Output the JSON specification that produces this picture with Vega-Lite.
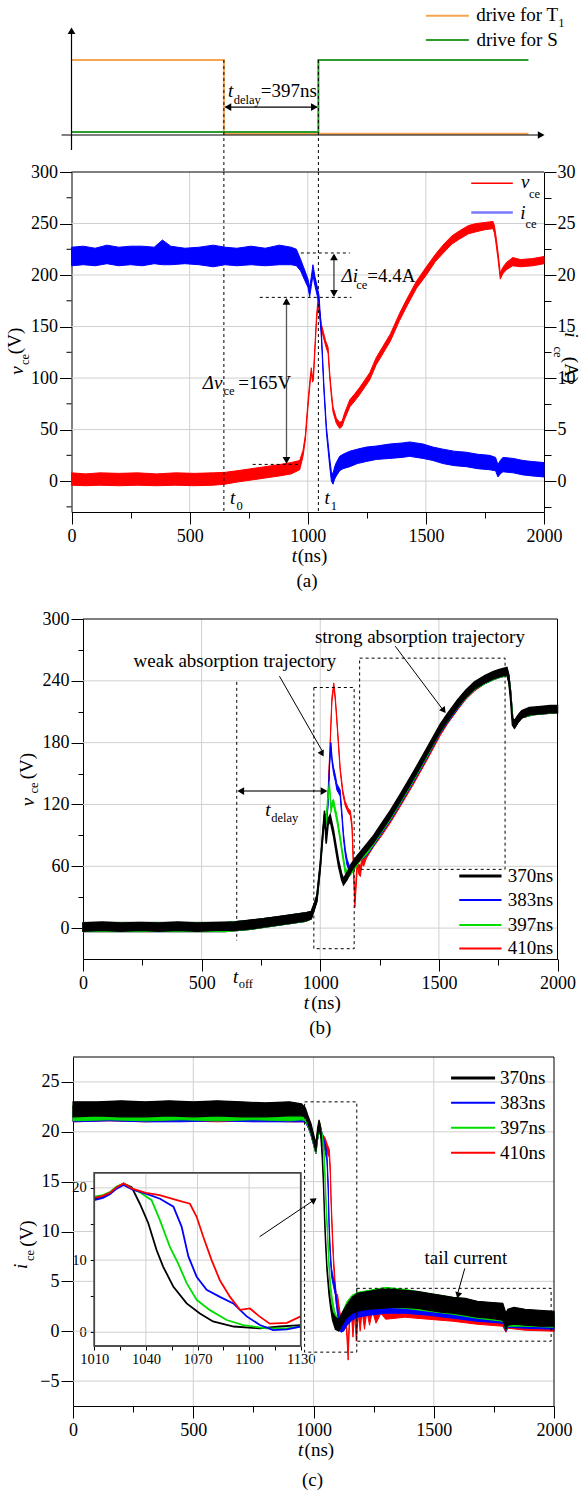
{
"$schema": "https://vega.github.io/schema/vega-lite/v6.json",
"background": "white",
"padding": 0,
"spacing": 0,
"bounds": "flush",
"config": {"font": "Liberation Serif, Times New Roman, DejaVu Serif, serif", "view": {"stroke": null}, "axis": {"labelFont": "Liberation Serif, Times New Roman, DejaVu Serif, serif", "labelFontSize": 18, "labelColor": "black", "domainColor": "black", "domainWidth": 1, "tickColor": "black", "tickWidth": 1, "grid": false}},
"datasets": {
"d_or": [{"t":0,"v":1},{"t":645,"v":0.017},{"t":1934,"v":0.017}],
"d_gr": [{"t":0,"v":0.04},{"t":1045,"v":1},{"t":1934,"v":1}],
"d_seg": [{"t":-42,"t2":1990,"v":0,"v2":0},{"t":0,"t2":0,"v":-0.2,"v2":1.4},{"t":652,"t2":1038,"v":0.373,"v2":0.373}],
"d_dash": [{"t":645,"t2":645,"v":1,"v2":-0.5},{"t":1045,"t2":1045,"v":1,"v2":-0.5}],
"d_lego": [{"t":1500,"t2":1682,"v":1.59,"v2":1.59}],
"d_legg": [{"t":1500,"t2":1682,"v":1.267,"v2":1.267}],
"d_up": [{"t":0,"v":1.39}],
"d_right": [{"t":1988,"v":0},{"t":1028,"v":0.373}],
"d_left": [{"t":662,"v":0.373}],
"d_it": [{"t":662,"v":0.587,"s":"t"}],
"d_sub": [{"t":687,"v":0.467,"s":"delay"},{"t":2060,"v":1.5,"s":"1"}],
"d_rm": [{"t":801,"v":0.587,"s":"=397ns"},{"t":1713,"v":1.6,"s":"drive for T"},{"t":1714,"v":1.267,"s":"drive for S"}],
"a_grid": [{"t":500,"t2":500,"v":-30,"v2":300},{"t":1000,"t2":1000,"v":-30,"v2":300},{"t":1500,"t2":1500,"v":-30,"v2":300},{"t":0,"t2":2000,"v":0,"v2":0},{"t":0,"t2":2000,"v":50,"v2":50},{"t":0,"t2":2000,"v":100,"v2":100},{"t":0,"t2":2000,"v":150,"v2":150},{"t":0,"t2":2000,"v":200,"v2":200},{"t":0,"t2":2000,"v":250,"v2":250}],
"a_minor": [{"t":-21.1,"t2":0,"v":-25,"v2":-25},{"t":-21.1,"t2":0,"v":25,"v2":25},{"t":-21.1,"t2":0,"v":75,"v2":75},{"t":-21.1,"t2":0,"v":125,"v2":125},{"t":-21.1,"t2":0,"v":175,"v2":175},{"t":-21.1,"t2":0,"v":225,"v2":225},{"t":-21.1,"t2":0,"v":275,"v2":275}],
"a_vce": [{"t":0,"lo":-4,"hi":8},{"t":60,"lo":-4.5,"hi":7},{"t":120,"lo":-4,"hi":8},{"t":200,"lo":-4.5,"hi":7.5},{"t":280,"lo":-4,"hi":8},{"t":360,"lo":-4.5,"hi":7},{"t":440,"lo":-4,"hi":8},{"t":520,"lo":-4.5,"hi":7.5},{"t":600,"lo":-4,"hi":8},{"t":650,"lo":-3,"hi":8.5},{"t":700,"lo":-1,"hi":10},{"t":760,"lo":1,"hi":12},{"t":820,"lo":3,"hi":14},{"t":880,"lo":5,"hi":16},{"t":930,"lo":7,"hi":18},{"t":966,"lo":11,"hi":20},{"t":980,"lo":24,"hi":30},{"t":990,"lo":40,"hi":45},{"t":1001,"lo":72,"hi":78},{"t":1010,"lo":95,"hi":100},{"t":1015,"lo":105,"hi":110},{"t":1020,"lo":96,"hi":101},{"t":1024,"lo":98,"hi":104},{"t":1030,"lo":124,"hi":130},{"t":1037,"lo":155,"hi":160},{"t":1044,"lo":172,"hi":178},{"t":1050,"lo":160,"hi":166},{"t":1058,"lo":147,"hi":152},{"t":1068,"lo":138,"hi":143},{"t":1076,"lo":131,"hi":136},{"t":1086,"lo":124,"hi":130},{"t":1093,"lo":100,"hi":105},{"t":1100,"lo":82,"hi":87},{"t":1107,"lo":67,"hi":72},{"t":1121,"lo":56,"hi":61},{"t":1135,"lo":51,"hi":57},{"t":1145,"lo":53,"hi":58},{"t":1156,"lo":60,"hi":66},{"t":1178,"lo":72,"hi":79},{"t":1200,"lo":78,"hi":85},{"t":1220,"lo":84,"hi":91},{"t":1262,"lo":98,"hi":105},{"t":1290,"lo":113,"hi":120},{"t":1319,"lo":124,"hi":131},{"t":1350,"lo":136,"hi":143},{"t":1389,"lo":156,"hi":163},{"t":1420,"lo":170,"hi":177},{"t":1460,"lo":187,"hi":194},{"t":1502,"lo":200,"hi":208},{"t":1540,"lo":213,"hi":220},{"t":1572,"lo":221,"hi":229},{"t":1610,"lo":230,"hi":238},{"t":1643,"lo":235,"hi":243},{"t":1680,"lo":240,"hi":248},{"t":1713,"lo":242,"hi":250},{"t":1750,"lo":244,"hi":251},{"t":1784,"lo":245,"hi":252},{"t":1790,"lo":241,"hi":248},{"t":1796,"lo":232,"hi":239},{"t":1805,"lo":216,"hi":223},{"t":1815,"lo":196,"hi":202},{"t":1825,"lo":201,"hi":207},{"t":1840,"lo":205,"hi":212},{"t":1868,"lo":209,"hi":217},{"t":1900,"lo":208,"hi":215},{"t":1953,"lo":209,"hi":216},{"t":2000,"lo":211,"hi":218}],
"a_ice": [{"t":0,"lo":20.9,"hi":22.7},{"t":50,"lo":21.0,"hi":22.8},{"t":100,"lo":20.9,"hi":22.6},{"t":150,"lo":21.1,"hi":22.9},{"t":200,"lo":20.9,"hi":22.7},{"t":250,"lo":21.0,"hi":22.8},{"t":300,"lo":20.9,"hi":22.8},{"t":350,"lo":21.1,"hi":22.7},{"t":385,"lo":21.0,"hi":23.4},{"t":420,"lo":21.0,"hi":22.8},{"t":480,"lo":21.1,"hi":22.6},{"t":540,"lo":21.0,"hi":22.7},{"t":600,"lo":20.8,"hi":22.9},{"t":650,"lo":21.0,"hi":22.7},{"t":700,"lo":20.9,"hi":22.6},{"t":760,"lo":21.0,"hi":22.8},{"t":820,"lo":20.9,"hi":22.6},{"t":880,"lo":21.0,"hi":22.9},{"t":930,"lo":21.0,"hi":22.7},{"t":952,"lo":20.9,"hi":22.5},{"t":970,"lo":20.4,"hi":21.5},{"t":985,"lo":19.6,"hi":20.6},{"t":1001,"lo":18.8,"hi":19.6},{"t":1008,"lo":17.9,"hi":18.8},{"t":1015,"lo":18.9,"hi":19.8},{"t":1022,"lo":20.0,"hi":21.0},{"t":1030,"lo":19.0,"hi":19.9},{"t":1040,"lo":18.0,"hi":18.9},{"t":1048,"lo":17.2,"hi":18.0},{"t":1058,"lo":13.8,"hi":14.4},{"t":1068,"lo":8.9,"hi":9.5},{"t":1079,"lo":4.7,"hi":5.3},{"t":1093,"lo":1.4,"hi":2.2},{"t":1100,"lo":0.0,"hi":0.9},{"t":1107,"lo":-0.3,"hi":0.7},{"t":1114,"lo":0.2,"hi":1.4},{"t":1121,"lo":0.5,"hi":1.8},{"t":1135,"lo":1.0,"hi":2.4},{"t":1149,"lo":1.2,"hi":2.6},{"t":1178,"lo":1.4,"hi":2.9},{"t":1210,"lo":1.7,"hi":3.1},{"t":1248,"lo":1.9,"hi":3.3},{"t":1290,"lo":2.1,"hi":3.4},{"t":1347,"lo":2.2,"hi":3.6},{"t":1400,"lo":2.3,"hi":3.7},{"t":1431,"lo":2.4,"hi":3.8},{"t":1488,"lo":2.2,"hi":3.6},{"t":1530,"lo":2.0,"hi":3.3},{"t":1572,"lo":1.7,"hi":3.1},{"t":1620,"lo":1.5,"hi":2.9},{"t":1671,"lo":1.4,"hi":2.8},{"t":1720,"lo":1.2,"hi":2.6},{"t":1770,"lo":1.1,"hi":2.5},{"t":1795,"lo":1.0,"hi":2.3},{"t":1805,"lo":0.4,"hi":1.6},{"t":1815,"lo":0.7,"hi":2.0},{"t":1826,"lo":0.9,"hi":2.3},{"t":1870,"lo":0.8,"hi":2.2},{"t":1911,"lo":0.6,"hi":2.0},{"t":1950,"lo":0.5,"hi":1.9},{"t":2000,"lo":0.4,"hi":1.8}],
"a_seg": [{"t":0,"t2":2000,"v":300,"v2":300},{"t":1111,"t2":1111,"v":219,"v2":180}],
"a_dash": [{"t":645,"t2":645,"v":300,"v2":-30},{"t":1045,"t2":1045,"v":300,"v2":-30},{"t":920,"t2":1178,"v":221.4,"v2":221.4},{"t":797,"t2":1185,"v":178.3,"v2":178.3},{"t":767,"t2":960,"v":16.2,"v2":16.2}],
"a_gray": [{"t":910,"t2":910,"v":176,"v2":18}],
"a_up": [{"t":1111,"v":217.5},{"t":910,"v":174.4}],
"a_down": [{"t":1111,"v":182.2},{"t":910,"v":20.1}],
"a_legr": [{"t":1692,"t2":1868,"v":289,"v2":289}],
"a_legb": [{"t":1692,"t2":1868,"v":260.7,"v2":260.7}],
"a_it": [{"t":1143,"v":198.7,"s":"Δi"},{"t":556,"v":95.4,"s":"Δv"},{"t":671,"v":-16,"s":"t"},{"t":1071,"v":-16,"s":"t"},{"t":1903,"v":290,"s":"v"},{"t":1899,"v":260,"s":"i"},{"t":932.5,"v":-73,"s":"t"}],
"a_sub": [{"t":1205,"v":190,"s":"ce"},{"t":643,"v":87.3,"s":"ce"},{"t":698,"v":-24,"s":"0"},{"t":1097,"v":-24,"s":"1"},{"t":1936,"v":279,"s":"ce"},{"t":1922,"v":250,"s":"ce"}],
"a_rm": [{"t":1252,"v":198.7,"s":"=4.4A"},{"t":706,"v":95.4,"s":"=165V"},{"t":957.7,"v":-73,"s":"(ns)"}],
"a_cap": [{"t":997,"v":-97,"s":"(a)"}],
"a_yl_it": [{"t":-230,"v":107.3,"s":"v"}],
"a_yl_sub": [{"t":-197,"v":118,"s":"ce"}],
"a_yl_rm": [{"t":-239,"v":136,"s":"(V)"}],
"a_yr_it": [{"t":2116,"v":141.8,"s":"i"}],
"a_yr_sub": [{"t":2061,"v":125.3,"s":"ce"}],
"a_yr_rm": [{"t":2116,"v":107.8,"s":"(A)"}],
"b_grid": [{"t":500,"t2":500,"v":-30,"v2":300},{"t":1000,"t2":1000,"v":-30,"v2":300},{"t":1500,"t2":1500,"v":-30,"v2":300},{"t":0,"t2":2000,"v":0,"v2":0},{"t":0,"t2":2000,"v":60,"v2":60},{"t":0,"t2":2000,"v":120,"v2":120},{"t":0,"t2":2000,"v":180,"v2":180},{"t":0,"t2":2000,"v":240,"v2":240}],
"b_k": [{"t":0,"lo":-3,"hi":5},{"t":80,"lo":-2,"hi":6},{"t":160,"lo":-3,"hi":5},{"t":240,"lo":-2,"hi":5.5},{"t":320,"lo":-3,"hi":5},{"t":400,"lo":-2,"hi":6},{"t":480,"lo":-3,"hi":5},{"t":560,"lo":-2,"hi":5.5},{"t":640,"lo":-2,"hi":6},{"t":700,"lo":-1,"hi":7.5},{"t":760,"lo":1,"hi":9},{"t":820,"lo":3,"hi":11},{"t":880,"lo":5,"hi":13},{"t":940,"lo":7,"hi":15},{"t":962,"lo":9,"hi":16},{"t":975,"lo":18,"hi":24},{"t":986,"lo":26,"hi":32},{"t":1000,"lo":57,"hi":63},{"t":1011,"lo":89,"hi":95},{"t":1018,"lo":108,"hi":114},{"t":1025,"lo":82,"hi":88},{"t":1033,"lo":100,"hi":106},{"t":1042,"lo":104,"hi":110},{"t":1056,"lo":89,"hi":95},{"t":1066,"lo":75,"hi":81},{"t":1077,"lo":60,"hi":66},{"t":1090,"lo":47,"hi":53},{"t":1098,"lo":42,"hi":48},{"t":1113,"lo":47,"hi":54},{"t":1130,"lo":55,"hi":62},{"t":1155,"lo":63,"hi":70},{"t":1190,"lo":73,"hi":80},{"t":1225,"lo":83,"hi":90},{"t":1260,"lo":95,"hi":102},{"t":1295,"lo":107,"hi":114},{"t":1340,"lo":124,"hi":131},{"t":1394,"lo":145,"hi":152},{"t":1450,"lo":168,"hi":175},{"t":1506,"lo":191,"hi":198},{"t":1536,"lo":201,"hi":208},{"t":1580,"lo":215,"hi":222},{"t":1614,"lo":224,"hi":231},{"t":1650,"lo":232,"hi":239},{"t":1693,"lo":238,"hi":245},{"t":1730,"lo":242,"hi":249},{"t":1755,"lo":244,"hi":251},{"t":1787,"lo":246,"hi":253},{"t":1795,"lo":238,"hi":245},{"t":1802,"lo":222,"hi":229},{"t":1810,"lo":197,"hi":204},{"t":1818,"lo":194,"hi":201},{"t":1835,"lo":200,"hi":207},{"t":1850,"lo":204,"hi":211},{"t":1881,"lo":207,"hi":214},{"t":1930,"lo":208,"hi":215},{"t":1970,"lo":209,"hi":216},{"t":2000,"lo":209,"hi":216}],
"b_r": [{"t":0,"lo":-3.5,"hi":5.5},{"t":200,"lo":-3.5,"hi":5.5},{"t":400,"lo":-3.5,"hi":5.5},{"t":600,"lo":-3.5,"hi":5.5},{"t":700,"lo":-1.5,"hi":7.5},{"t":820,"lo":2.5,"hi":11},{"t":940,"lo":6.5,"hi":15},{"t":962,"lo":9,"hi":16},{"t":975,"lo":18,"hi":24},{"t":986,"lo":26,"hi":32},{"t":1000,"lo":57,"hi":63},{"t":1011,"lo":89,"hi":95},{"t":1018,"lo":106,"hi":112},{"t":1025,"lo":100,"hi":106},{"t":1030,"lo":112,"hi":117},{"t":1042,"lo":178,"hi":182},{"t":1049,"lo":219,"hi":224},{"t":1057,"lo":234,"hi":238},{"t":1063,"lo":222,"hi":226},{"t":1070,"lo":200,"hi":204},{"t":1084,"lo":152,"hi":156},{"t":1095,"lo":130,"hi":134},{"t":1105,"lo":119,"hi":123},{"t":1118,"lo":112,"hi":116},{"t":1127,"lo":109,"hi":114},{"t":1134,"lo":96,"hi":101},{"t":1141,"lo":50,"hi":56},{"t":1146,"lo":20,"hi":26},{"t":1150,"lo":35,"hi":45},{"t":1157,"lo":60,"hi":70},{"t":1163,"lo":52,"hi":60},{"t":1169,"lo":50,"hi":58},{"t":1176,"lo":62,"hi":70},{"t":1183,"lo":60,"hi":70},{"t":1195,"lo":68,"hi":76},{"t":1225,"lo":79,"hi":86},{"t":1260,"lo":90,"hi":97},{"t":1295,"lo":102,"hi":109},{"t":1340,"lo":119,"hi":126},{"t":1394,"lo":140,"hi":147},{"t":1450,"lo":163,"hi":170},{"t":1506,"lo":187,"hi":194},{"t":1536,"lo":198,"hi":205},{"t":1580,"lo":212,"hi":219},{"t":1614,"lo":222,"hi":229},{"t":1650,"lo":230,"hi":237},{"t":1693,"lo":237,"hi":244},{"t":1730,"lo":241,"hi":248},{"t":1755,"lo":243,"hi":250},{"t":1787,"lo":245,"hi":252},{"t":1795,"lo":239,"hi":246},{"t":1803,"lo":223,"hi":230},{"t":1812,"lo":197,"hi":204},{"t":1820,"lo":194,"hi":201},{"t":1835,"lo":200,"hi":207},{"t":1850,"lo":204,"hi":211},{"t":1900,"lo":207,"hi":214},{"t":2000,"lo":209,"hi":216}],
"b_b": [{"t":0,"lo":-3.5,"hi":5.5},{"t":200,"lo":-3.5,"hi":5.5},{"t":400,"lo":-3.5,"hi":5.5},{"t":600,"lo":-3.5,"hi":5.5},{"t":700,"lo":-1.5,"hi":7.5},{"t":820,"lo":2.5,"hi":11},{"t":940,"lo":6.5,"hi":15},{"t":962,"lo":9,"hi":16},{"t":975,"lo":18,"hi":24},{"t":986,"lo":26,"hi":32},{"t":1000,"lo":57,"hi":63},{"t":1011,"lo":89,"hi":95},{"t":1018,"lo":106,"hi":112},{"t":1025,"lo":100,"hi":106},{"t":1033,"lo":118,"hi":124},{"t":1040,"lo":160,"hi":165},{"t":1045,"lo":175,"hi":180},{"t":1050,"lo":160,"hi":165},{"t":1056,"lo":150,"hi":156},{"t":1064,"lo":142,"hi":148},{"t":1070,"lo":134,"hi":140},{"t":1084,"lo":128,"hi":134},{"t":1092,"lo":105,"hi":111},{"t":1098,"lo":86,"hi":92},{"t":1106,"lo":70,"hi":76},{"t":1113,"lo":61,"hi":67},{"t":1125,"lo":53,"hi":59},{"t":1135,"lo":55,"hi":61},{"t":1150,"lo":60,"hi":67},{"t":1170,"lo":66,"hi":74},{"t":1195,"lo":70,"hi":77},{"t":1225,"lo":80,"hi":87},{"t":1260,"lo":92,"hi":99},{"t":1295,"lo":104,"hi":111},{"t":1340,"lo":121,"hi":128},{"t":1394,"lo":142,"hi":149},{"t":1450,"lo":165,"hi":172},{"t":1506,"lo":189,"hi":196},{"t":1536,"lo":199,"hi":206},{"t":1580,"lo":213,"hi":220},{"t":1614,"lo":223,"hi":230},{"t":1650,"lo":231,"hi":238},{"t":1693,"lo":237,"hi":244},{"t":1730,"lo":241,"hi":248},{"t":1755,"lo":243,"hi":250},{"t":1787,"lo":245,"hi":252},{"t":1795,"lo":239,"hi":246},{"t":1803,"lo":223,"hi":230},{"t":1812,"lo":197,"hi":204},{"t":1820,"lo":194,"hi":201},{"t":1835,"lo":200,"hi":207},{"t":1850,"lo":204,"hi":211},{"t":1900,"lo":207,"hi":214},{"t":2000,"lo":209,"hi":216}],
"b_g": [{"t":0,"lo":-3.5,"hi":5.5},{"t":200,"lo":-3.5,"hi":5.5},{"t":400,"lo":-3.5,"hi":5.5},{"t":600,"lo":-3.5,"hi":5.5},{"t":700,"lo":-1.5,"hi":7.5},{"t":820,"lo":2.5,"hi":11},{"t":940,"lo":6.5,"hi":15},{"t":962,"lo":9,"hi":16},{"t":975,"lo":18,"hi":24},{"t":986,"lo":26,"hi":32},{"t":1000,"lo":57,"hi":63},{"t":1011,"lo":89,"hi":95},{"t":1018,"lo":106,"hi":112},{"t":1025,"lo":100,"hi":106},{"t":1030,"lo":118,"hi":124},{"t":1039,"lo":137,"hi":142},{"t":1045,"lo":112,"hi":118},{"t":1051,"lo":118,"hi":124},{"t":1056,"lo":119,"hi":125},{"t":1064,"lo":110,"hi":116},{"t":1072,"lo":101,"hi":107},{"t":1084,"lo":84,"hi":90},{"t":1093,"lo":70,"hi":76},{"t":1105,"lo":53,"hi":59},{"t":1115,"lo":49,"hi":55},{"t":1127,"lo":51,"hi":57},{"t":1148,"lo":58,"hi":65},{"t":1170,"lo":66,"hi":74},{"t":1195,"lo":71,"hi":78},{"t":1225,"lo":81,"hi":88},{"t":1260,"lo":93,"hi":100},{"t":1295,"lo":105,"hi":112},{"t":1340,"lo":122,"hi":129},{"t":1394,"lo":143,"hi":150},{"t":1450,"lo":166,"hi":173},{"t":1506,"lo":190,"hi":197},{"t":1536,"lo":200,"hi":207},{"t":1580,"lo":214,"hi":221},{"t":1614,"lo":223,"hi":230},{"t":1650,"lo":231,"hi":238},{"t":1693,"lo":237,"hi":244},{"t":1730,"lo":241,"hi":248},{"t":1755,"lo":243,"hi":250},{"t":1787,"lo":245,"hi":252},{"t":1795,"lo":239,"hi":246},{"t":1803,"lo":223,"hi":230},{"t":1812,"lo":197,"hi":204},{"t":1820,"lo":194,"hi":201},{"t":1835,"lo":200,"hi":207},{"t":1850,"lo":204,"hi":211},{"t":1900,"lo":207,"hi":214},{"t":2000,"lo":209,"hi":216}],
"b_seg": [{"t":0,"t2":2000,"v":300,"v2":300},{"t":2000,"t2":2000,"v":-30,"v2":300},{"t":828,"t2":1008,"v":244.5,"v2":172},{"t":1316,"t2":1520,"v":273.6,"v2":211}],
"b_gray": [{"t":660,"t2":1022,"v":133,"v2":133}],
"b_dash": [{"t":648,"t2":648,"v":239,"v2":-12}],
"b_box": [{"t":973,"t2":1143,"v":-20,"v2":233.5},{"t":1166,"t2":1779,"v":57,"v2":262}],
"b_left": [{"t":665,"v":133}],
"b_right": [{"t":1016,"v":133}],
"b_hw": [{"t":1006,"v":170}],
"b_hs": [{"t":1518,"v":211.9}],
"b_legk": [{"t":1586,"t2":1764,"v":50.6,"v2":50.6}],
"b_legb": [{"t":1586,"t2":1764,"v":27.2,"v2":27.2}],
"b_legg": [{"t":1586,"t2":1764,"v":2.9,"v2":2.9}],
"b_legr": [{"t":1586,"t2":1764,"v":-19.8,"v2":-19.8}],
"b_ctr": [{"t":640,"v":259,"s":"weak absorption trajectory"},{"t":1420,"v":283,"s":"strong absorption trajectory"},{"t":1000,"v":-97,"s":"(b)"}],
"b_it": [{"t":768,"v":114.8,"s":"t"},{"t":632,"v":-47.5,"s":"t"},{"t":930,"v":-73,"s":"t"}],
"b_sub": [{"t":793,"v":107,"s":"delay"},{"t":656,"v":-54,"s":"off"}],
"b_rm": [{"t":962,"v":-73,"s":"(ns)"},{"t":1790,"v":50.6,"s":"370ns"},{"t":1790,"v":27.2,"s":"383ns"},{"t":1790,"v":2.9,"s":"397ns"},{"t":1790,"v":-19.8,"s":"410ns"}],
"b_yl_it": [{"t":-232,"v":122.4,"s":"v"}],
"b_yl_sub": [{"t":-207,"v":136,"s":"ce"}],
"b_yl_rm": [{"t":-236,"v":157.3,"s":"(V)"}],
"c_grid": [{"t":500,"t2":500,"v":-7.5,"v2":27.5},{"t":1000,"t2":1000,"v":-7.5,"v2":27.5},{"t":1500,"t2":1500,"v":-7.5,"v2":27.5},{"t":0,"t2":2000,"v":-5,"v2":-5},{"t":0,"t2":2000,"v":0,"v2":0},{"t":0,"t2":2000,"v":5,"v2":5},{"t":0,"t2":2000,"v":10,"v2":10},{"t":0,"t2":2000,"v":15,"v2":15},{"t":0,"t2":2000,"v":20,"v2":20},{"t":0,"t2":2000,"v":25,"v2":25}],
"c_k": [{"t":0,"lo":21.5,"hi":23.0},{"t":100,"lo":21.6,"hi":23.0},{"t":200,"lo":21.5,"hi":23.1},{"t":300,"lo":21.5,"hi":23.0},{"t":400,"lo":21.6,"hi":23.1},{"t":500,"lo":21.5,"hi":23.0},{"t":600,"lo":21.6,"hi":23.1},{"t":700,"lo":21.5,"hi":23.0},{"t":800,"lo":21.5,"hi":22.9},{"t":900,"lo":21.6,"hi":23.0},{"t":950,"lo":21.6,"hi":22.8},{"t":966,"lo":21.5,"hi":22.4},{"t":980,"lo":20.6,"hi":21.4},{"t":990,"lo":19.9,"hi":20.8},{"t":1000,"lo":19.0,"hi":19.8},{"t":1010,"lo":18.0,"hi":18.8},{"t":1017,"lo":19.6,"hi":20.4},{"t":1023,"lo":20.4,"hi":21.2},{"t":1030,"lo":19.6,"hi":20.4},{"t":1036,"lo":17.4,"hi":18.2},{"t":1041,"lo":14.8,"hi":15.5},{"t":1046,"lo":11.0,"hi":11.8},{"t":1050,"lo":8.7,"hi":9.5},{"t":1056,"lo":6.0,"hi":6.6},{"t":1064,"lo":3.7,"hi":4.3},{"t":1071,"lo":2.3,"hi":2.9},{"t":1079,"lo":1.1,"hi":1.9},{"t":1091,"lo":0.2,"hi":1.4},{"t":1106,"lo":0.0,"hi":1.2},{"t":1118,"lo":0.6,"hi":1.8},{"t":1137,"lo":1.3,"hi":2.6},{"t":1160,"lo":1.8,"hi":3.4},{"t":1183,"lo":2.0,"hi":3.8},{"t":1230,"lo":2.2,"hi":4.0},{"t":1280,"lo":2.3,"hi":4.2},{"t":1323,"lo":2.4,"hi":4.2},{"t":1380,"lo":2.4,"hi":4.1},{"t":1430,"lo":2.3,"hi":4.0},{"t":1478,"lo":2.1,"hi":3.8},{"t":1530,"lo":1.9,"hi":3.6},{"t":1580,"lo":1.8,"hi":3.4},{"t":1632,"lo":1.6,"hi":3.3},{"t":1680,"lo":1.4,"hi":3.0},{"t":1730,"lo":1.3,"hi":2.9},{"t":1787,"lo":1.1,"hi":2.8},{"t":1800,"lo":0.2,"hi":1.8},{"t":1808,"lo":0.6,"hi":2.2},{"t":1834,"lo":0.7,"hi":2.4},{"t":1880,"lo":0.6,"hi":2.2},{"t":1940,"lo":0.5,"hi":2.1},{"t":2000,"lo":0.5,"hi":2.0}],
"c_r": [{"t":0,"lo":21.0,"hi":22.6},{"t":150,"lo":21.1,"hi":22.7},{"t":300,"lo":21.0,"hi":22.6},{"t":450,"lo":21.1,"hi":22.8},{"t":600,"lo":21.0,"hi":22.6},{"t":750,"lo":21.1,"hi":22.7},{"t":900,"lo":21.0,"hi":22.6},{"t":950,"lo":21.0,"hi":22.5},{"t":966,"lo":21.0,"hi":22.1},{"t":980,"lo":20.3,"hi":21.1},{"t":990,"lo":19.6,"hi":20.4},{"t":1000,"lo":18.7,"hi":19.5},{"t":1010,"lo":17.8,"hi":18.6},{"t":1017,"lo":19.2,"hi":20.0},{"t":1025,"lo":20.2,"hi":21.0},{"t":1036,"lo":19.0,"hi":19.8},{"t":1048,"lo":18.6,"hi":19.4},{"t":1058,"lo":17.9,"hi":18.7},{"t":1066,"lo":17.4,"hi":18.2},{"t":1070,"lo":15.6,"hi":16.4},{"t":1073,"lo":12.8,"hi":13.6},{"t":1078,"lo":9.6,"hi":10.4},{"t":1083,"lo":6.8,"hi":7.6},{"t":1089,"lo":4.5,"hi":5.3},{"t":1095,"lo":2.7,"hi":3.5},{"t":1100,"lo":2.9,"hi":3.7},{"t":1106,"lo":1.8,"hi":2.6},{"t":1112,"lo":0.8,"hi":1.6},{"t":1122,"lo":0.9,"hi":1.7},{"t":1130,"lo":1.5,"hi":2.4},{"t":1137,"lo":0.2,"hi":1.0},{"t":1144,"lo":-2.9,"hi":-2.0},{"t":1150,"lo":1.0,"hi":2.0},{"t":1157,"lo":2.0,"hi":3.0},{"t":1164,"lo":-0.6,"hi":0.4},{"t":1171,"lo":1.8,"hi":2.8},{"t":1178,"lo":-1.0,"hi":0.0},{"t":1186,"lo":1.8,"hi":2.9},{"t":1194,"lo":0.0,"hi":1.0},{"t":1202,"lo":2.0,"hi":3.1},{"t":1212,"lo":0.2,"hi":1.2},{"t":1222,"lo":2.0,"hi":3.2},{"t":1233,"lo":0.6,"hi":1.6},{"t":1245,"lo":2.0,"hi":3.4},{"t":1260,"lo":0.8,"hi":2.0},{"t":1280,"lo":1.8,"hi":3.5},{"t":1300,"lo":1.2,"hi":3.4},{"t":1380,"lo":1.4,"hi":3.6},{"t":1478,"lo":1.2,"hi":3.3},{"t":1580,"lo":1.0,"hi":3.0},{"t":1680,"lo":0.7,"hi":2.6},{"t":1787,"lo":0.5,"hi":2.4},{"t":1800,"lo":-0.1,"hi":1.3},{"t":1808,"lo":0.3,"hi":1.8},{"t":1880,"lo":0.1,"hi":1.8},{"t":2000,"lo":0.0,"hi":1.6}],
"c_b": [{"t":0,"lo":21.0,"hi":22.6},{"t":150,"lo":21.1,"hi":22.7},{"t":300,"lo":21.0,"hi":22.6},{"t":450,"lo":21.0,"hi":22.8},{"t":600,"lo":21.1,"hi":22.6},{"t":750,"lo":21.0,"hi":22.7},{"t":900,"lo":21.0,"hi":22.6},{"t":950,"lo":21.0,"hi":22.5},{"t":966,"lo":21.0,"hi":22.1},{"t":980,"lo":20.3,"hi":21.1},{"t":990,"lo":19.6,"hi":20.4},{"t":1000,"lo":18.7,"hi":19.5},{"t":1010,"lo":17.8,"hi":18.6},{"t":1017,"lo":19.2,"hi":20.0},{"t":1025,"lo":20.1,"hi":20.9},{"t":1036,"lo":19.0,"hi":19.8},{"t":1048,"lo":18.1,"hi":18.9},{"t":1056,"lo":17.0,"hi":17.8},{"t":1061,"lo":14.2,"hi":15.0},{"t":1065,"lo":10.1,"hi":10.9},{"t":1070,"lo":7.3,"hi":8.1},{"t":1075,"lo":5.5,"hi":6.3},{"t":1083,"lo":4.5,"hi":5.3},{"t":1091,"lo":3.6,"hi":4.4},{"t":1099,"lo":1.8,"hi":2.6},{"t":1106,"lo":0.6,"hi":1.4},{"t":1114,"lo":-0.1,"hi":0.7},{"t":1125,"lo":0.0,"hi":1.2},{"t":1140,"lo":0.6,"hi":2.0},{"t":1160,"lo":1.1,"hi":2.8},{"t":1183,"lo":1.4,"hi":3.2},{"t":1230,"lo":1.6,"hi":3.5},{"t":1300,"lo":1.8,"hi":3.8},{"t":1380,"lo":1.8,"hi":3.8},{"t":1478,"lo":1.6,"hi":3.5},{"t":1580,"lo":1.3,"hi":3.2},{"t":1680,"lo":1.0,"hi":2.8},{"t":1787,"lo":0.8,"hi":2.5},{"t":1800,"lo":0.0,"hi":1.5},{"t":1808,"lo":0.4,"hi":2.0},{"t":1880,"lo":0.3,"hi":2.0},{"t":2000,"lo":0.2,"hi":1.8}],
"c_g": [{"t":0,"lo":21.1,"hi":22.7},{"t":150,"lo":21.2,"hi":22.8},{"t":300,"lo":21.1,"hi":22.7},{"t":450,"lo":21.2,"hi":22.8},{"t":600,"lo":21.1,"hi":22.7},{"t":750,"lo":21.2,"hi":22.8},{"t":900,"lo":21.1,"hi":22.7},{"t":950,"lo":21.2,"hi":22.6},{"t":966,"lo":21.1,"hi":22.2},{"t":980,"lo":20.4,"hi":21.2},{"t":990,"lo":19.7,"hi":20.5},{"t":1000,"lo":18.8,"hi":19.6},{"t":1010,"lo":17.8,"hi":18.6},{"t":1017,"lo":19.2,"hi":20.0},{"t":1025,"lo":20.2,"hi":21.0},{"t":1036,"lo":19.0,"hi":19.8},{"t":1043,"lo":17.9,"hi":18.7},{"t":1048,"lo":15.1,"hi":15.9},{"t":1054,"lo":11.4,"hi":12.2},{"t":1059,"lo":9.1,"hi":9.9},{"t":1064,"lo":6.4,"hi":7.2},{"t":1070,"lo":4.1,"hi":4.9},{"t":1077,"lo":2.7,"hi":3.5},{"t":1087,"lo":1.3,"hi":2.1},{"t":1097,"lo":0.6,"hi":1.4},{"t":1110,"lo":0.2,"hi":1.0},{"t":1125,"lo":1.0,"hi":2.2},{"t":1140,"lo":1.7,"hi":3.0},{"t":1160,"lo":2.0,"hi":3.6},{"t":1183,"lo":2.1,"hi":3.9},{"t":1230,"lo":2.3,"hi":4.1},{"t":1300,"lo":2.4,"hi":4.4},{"t":1380,"lo":2.3,"hi":4.2},{"t":1478,"lo":2.0,"hi":3.8},{"t":1580,"lo":1.7,"hi":3.4},{"t":1680,"lo":1.3,"hi":3.0},{"t":1787,"lo":1.0,"hi":2.7},{"t":1800,"lo":0.1,"hi":1.7},{"t":1808,"lo":0.5,"hi":2.1},{"t":1880,"lo":0.5,"hi":2.1},{"t":2000,"lo":0.4,"hi":1.9}],
"c_seg": [{"t":0,"t2":2000,"v":27.5,"v2":27.5},{"t":2000,"t2":2000,"v":-7.5,"v2":27.5},{"t":1629,"t2":1601,"v":6.3,"v2":3.9}],
"c_box": [{"t":963,"t2":1180,"v":-2.1,"v2":23.0},{"t":1180,"t2":1988,"v":-1.0,"v2":4.3}],
"c_htail": [{"t":1602,"v":3.7}],
"c_legk": [{"t":1572,"t2":1755,"v":25.4,"v2":25.4}],
"c_legb": [{"t":1572,"t2":1755,"v":22.9,"v2":22.9}],
"c_legg": [{"t":1572,"t2":1755,"v":20.4,"v2":20.4}],
"c_legr": [{"t":1572,"t2":1755,"v":17.9,"v2":17.9}],
"c_ctr": [{"t":1634,"v":7.3,"s":"tail current"},{"t":996,"v":-14.9,"s":"(c)"}],
"c_it": [{"t":935.6,"v":-11.9,"s":"t"}],
"c_rm": [{"t":963,"v":-11.9,"s":"(ns)"},{"t":1775,"v":25.4,"s":"370ns"},{"t":1775,"v":22.9,"s":"383ns"},{"t":1775,"v":20.4,"s":"397ns"},{"t":1775,"v":17.9,"s":"410ns"}],
"c_yl_it": [{"t":-216,"v":6.5,"s":"i"}],
"c_yl_sub": [{"t":-179,"v":7.6,"s":"ce"}],
"c_yl_rm": [{"t":-191,"v":9.8,"s":"(V)"}],
"i_frame": [{"t":1010,"t2":1130,"v":-1.9,"v2":22.1}],
"i_grid": [{"t":1040,"t2":1040,"v":-1.9,"v2":22.1},{"t":1070,"t2":1070,"v":-1.9,"v2":22.1},{"t":1100,"t2":1100,"v":-1.9,"v2":22.1},{"t":1010,"t2":1130,"v":0,"v2":0},{"t":1010,"t2":1130,"v":10,"v2":10},{"t":1010,"t2":1130,"v":20,"v2":20}],
"i_arrow": [{"t":1106.1,"t2":1137.3,"v":13.23,"v2":18.24}],
"i_head": [{"t":1137.3,"v":18.24}],
"i_k": [{"t":1010,"v":18.5},{"t":1015,"v":18.8},{"t":1019,"v":19.2},{"t":1023,"v":20.0},{"t":1027,"v":20.6},{"t":1031.7,"v":20.1},{"t":1036.5,"v":17.8},{"t":1041.4,"v":15.1},{"t":1046.2,"v":11.4},{"t":1050,"v":9.1},{"t":1056,"v":6.3},{"t":1063.7,"v":4.0},{"t":1071.4,"v":2.6},{"t":1079,"v":1.5},{"t":1091,"v":0.8},{"t":1106,"v":0.55},{"t":1118,"v":0.8},{"t":1130,"v":1.0}],
"i_g": [{"t":1010,"v":18.8},{"t":1015,"v":19.0},{"t":1019,"v":19.4},{"t":1023,"v":20.2},{"t":1027,"v":20.6},{"t":1032,"v":19.9},{"t":1036.5,"v":19.4},{"t":1043.3,"v":18.3},{"t":1048.2,"v":15.5},{"t":1054,"v":11.8},{"t":1058.8,"v":9.5},{"t":1063.7,"v":6.8},{"t":1069.5,"v":4.5},{"t":1077,"v":3.1},{"t":1087,"v":1.7},{"t":1096.6,"v":1.0},{"t":1110,"v":0.55},{"t":1122,"v":0.55},{"t":1130,"v":0.8}],
"i_b": [{"t":1010,"v":18.3},{"t":1015,"v":18.6},{"t":1019,"v":19.1},{"t":1023,"v":19.9},{"t":1027,"v":20.4},{"t":1032,"v":19.8},{"t":1040,"v":19.2},{"t":1048.2,"v":18.5},{"t":1056,"v":17.4},{"t":1060.8,"v":14.6},{"t":1064.7,"v":10.5},{"t":1069.5,"v":7.7},{"t":1075.3,"v":5.9},{"t":1083,"v":4.9},{"t":1090.8,"v":4.0},{"t":1098.6,"v":2.2},{"t":1106.3,"v":1.0},{"t":1114,"v":0.3},{"t":1122,"v":0.4},{"t":1130,"v":0.8}],
"i_r": [{"t":1010,"v":18.6},{"t":1015,"v":18.9},{"t":1019,"v":19.3},{"t":1023,"v":20.1},{"t":1027,"v":20.6},{"t":1032,"v":19.9},{"t":1040,"v":19.3},{"t":1048,"v":19.0},{"t":1058,"v":18.3},{"t":1065.6,"v":17.8},{"t":1069.5,"v":16.0},{"t":1073.4,"v":13.2},{"t":1078.2,"v":10.0},{"t":1083,"v":7.2},{"t":1088.9,"v":4.9},{"t":1094.7,"v":3.1},{"t":1100.5,"v":3.3},{"t":1106,"v":2.2},{"t":1112,"v":1.2},{"t":1122,"v":1.3},{"t":1130,"v":2.2}]
},
"vconcat": [
{"width": 544, "height": 150, "layer": [
 {"data":{"name":"d_or"},"mark":{"type":"line","interpolate":"step-after","color":"#f5a54f","strokeWidth":2},"encoding":{"x":{"field":"t","type":"quantitative","scale":{"domain":[0,2000],"range":[71.5,544],"nice":false,"zero":false},"axis":null},"y":{"field":"v","type":"quantitative","scale":{"domain":[-0.2,1.5],"range":[150,22.5],"nice":false,"zero":false},"axis":null}}},
 {"data":{"name":"d_gr"},"mark":{"type":"line","interpolate":"step-after","color":"#2e9b2e","strokeWidth":2},"encoding":{"x":{"field":"t","type":"quantitative","axis":null},"y":{"field":"v","type":"quantitative","axis":null}}},
 {"data":{"name":"d_seg"},"mark":{"type":"rule","color":"black","strokeWidth":1.2},"encoding":{"x":{"field":"t","type":"quantitative","axis":null},"x2":{"field":"t2"},"y":{"field":"v","type":"quantitative","axis":null},"y2":{"field":"v2"}}},
 {"data":{"name":"d_dash"},"mark":{"type":"rule","color":"black","strokeWidth":1,"strokeDash":[3,3]},"encoding":{"x":{"field":"t","type":"quantitative","axis":null},"x2":{"field":"t2"},"y":{"field":"v","type":"quantitative","axis":null},"y2":{"field":"v2"}}},
 {"data":{"name":"d_lego"},"mark":{"type":"rule","color":"#f5a54f","strokeWidth":2},"encoding":{"x":{"field":"t","type":"quantitative","axis":null},"x2":{"field":"t2"},"y":{"field":"v","type":"quantitative","axis":null},"y2":{"field":"v2"}}},
 {"data":{"name":"d_legg"},"mark":{"type":"rule","color":"#2e9b2e","strokeWidth":2},"encoding":{"x":{"field":"t","type":"quantitative","axis":null},"x2":{"field":"t2"},"y":{"field":"v","type":"quantitative","axis":null},"y2":{"field":"v2"}}},
 {"data":{"name":"d_up"},"mark":{"type":"point","shape":"triangle-up","filled":true,"color":"black","opacity":1,"size":60},"encoding":{"x":{"field":"t","type":"quantitative","axis":null},"y":{"field":"v","type":"quantitative","axis":null}}},
 {"data":{"name":"d_right"},"mark":{"type":"point","shape":"triangle-right","filled":true,"color":"black","opacity":1,"size":60},"encoding":{"x":{"field":"t","type":"quantitative","axis":null},"y":{"field":"v","type":"quantitative","axis":null}}},
 {"data":{"name":"d_left"},"mark":{"type":"point","shape":"triangle-left","filled":true,"color":"black","opacity":1,"size":60},"encoding":{"x":{"field":"t","type":"quantitative","axis":null},"y":{"field":"v","type":"quantitative","axis":null}}},
 {"data":{"name":"d_it"},"mark":{"type":"text","fontSize":19,"fontStyle":"italic","align":"left","baseline":"middle","color":"black"},"encoding":{"x":{"field":"t","type":"quantitative","axis":null},"y":{"field":"v","type":"quantitative","axis":null},"text":{"field":"s"}}},
 {"data":{"name":"d_sub"},"mark":{"type":"text","fontSize":12.5,"align":"left","baseline":"middle","color":"black"},"encoding":{"x":{"field":"t","type":"quantitative","axis":null},"y":{"field":"v","type":"quantitative","axis":null},"text":{"field":"s"}}},
 {"data":{"name":"d_rm"},"mark":{"type":"text","fontSize":19,"align":"left","baseline":"middle","color":"black"},"encoding":{"x":{"field":"t","type":"quantitative","axis":null},"y":{"field":"v","type":"quantitative","axis":null},"text":{"field":"s"}}}
]},
{"width": 544, "height": 362, "layer": [
 {"layer": [
  {"data":{"name":"a_grid"},"mark":{"type":"rule","color":"#d0d0d0","strokeWidth":1},"encoding":{"x":{"field":"t","type":"quantitative","scale":{"domain":[0,2000],"range":[71.5,544],"nice":false,"zero":false},"axis":{"values":[0,250,500,750,1000,1250,1500,1750,2000],"format":"d","labelExpr":"datum.value % 500 === 0 ? datum.label : ''","grid":false,"tickSize":{"condition":{"test":"datum.value % 500 === 0","value":12},"value":6},"labelPadding":3,"labelFlush":false,"labelOverlap":false,"title":null}},"x2":{"field":"t2"},"y":{"field":"v","type":"quantitative","scale":{"domain":[-30,300],"range":[362,22],"nice":false,"zero":false},"axis":{"orient":"left","values":[0,50,100,150,200,250,300],"format":"d","grid":false,"tickSize":12,"labelPadding":2,"offset":-71.5,"labelFlush":false,"labelOverlap":false,"title":null}},"y2":{"field":"v2"}}},
  {"data":{"name":"a_minor"},"mark":{"type":"rule","color":"black","strokeWidth":1},"encoding":{"x":{"field":"t","type":"quantitative"},"x2":{"field":"t2"},"y":{"field":"v","type":"quantitative"},"y2":{"field":"v2"}}},
  {"data":{"name":"a_vce"},"mark":{"type":"area","color":"#ff0000","stroke":"#ff0000","strokeWidth":1},"encoding":{"x":{"field":"t","type":"quantitative"},"y":{"field":"lo","type":"quantitative"},"y2":{"field":"hi"}}},
  {"data":{"name":"a_seg"},"mark":{"type":"rule","color":"black","strokeWidth":1},"encoding":{"x":{"field":"t","type":"quantitative"},"x2":{"field":"t2"},"y":{"field":"v","type":"quantitative"},"y2":{"field":"v2"}}},
  {"data":{"name":"a_dash"},"mark":{"type":"rule","color":"black","strokeWidth":1,"strokeDash":[3,3]},"encoding":{"x":{"field":"t","type":"quantitative"},"x2":{"field":"t2"},"y":{"field":"v","type":"quantitative"},"y2":{"field":"v2"}}},
  {"data":{"name":"a_gray"},"mark":{"type":"rule","color":"#555555","strokeWidth":1.3},"encoding":{"x":{"field":"t","type":"quantitative"},"x2":{"field":"t2"},"y":{"field":"v","type":"quantitative"},"y2":{"field":"v2"}}},
  {"data":{"name":"a_up"},"mark":{"type":"point","shape":"triangle-up","filled":true,"color":"black","opacity":1,"size":60},"encoding":{"x":{"field":"t","type":"quantitative"},"y":{"field":"v","type":"quantitative"}}},
  {"data":{"name":"a_down"},"mark":{"type":"point","shape":"triangle-down","filled":true,"color":"black","opacity":1,"size":60},"encoding":{"x":{"field":"t","type":"quantitative"},"y":{"field":"v","type":"quantitative"}}},
  {"data":{"name":"a_legr"},"mark":{"type":"rule","color":"#ff0000","strokeWidth":1.5},"encoding":{"x":{"field":"t","type":"quantitative"},"x2":{"field":"t2"},"y":{"field":"v","type":"quantitative"},"y2":{"field":"v2"}}},
  {"data":{"name":"a_legb"},"mark":{"type":"rule","color":"#7a7aff","strokeWidth":2.5},"encoding":{"x":{"field":"t","type":"quantitative"},"x2":{"field":"t2"},"y":{"field":"v","type":"quantitative"},"y2":{"field":"v2"}}},
  {"data":{"name":"a_it"},"mark":{"type":"text","fontSize":19,"fontStyle":"italic","align":"left","baseline":"middle","color":"black"},"encoding":{"x":{"field":"t","type":"quantitative"},"y":{"field":"v","type":"quantitative"},"text":{"field":"s"}}},
  {"data":{"name":"a_sub"},"mark":{"type":"text","fontSize":12.5,"align":"left","baseline":"middle","color":"black"},"encoding":{"x":{"field":"t","type":"quantitative"},"y":{"field":"v","type":"quantitative"},"text":{"field":"s"}}},
  {"data":{"name":"a_rm"},"mark":{"type":"text","fontSize":19,"align":"left","baseline":"middle","color":"black"},"encoding":{"x":{"field":"t","type":"quantitative"},"y":{"field":"v","type":"quantitative"},"text":{"field":"s"}}},
  {"data":{"name":"a_cap"},"mark":{"type":"text","fontSize":19,"align":"center","baseline":"middle","color":"black"},"encoding":{"x":{"field":"t","type":"quantitative"},"y":{"field":"v","type":"quantitative"},"text":{"field":"s"}}},
  {"data":{"name":"a_yl_it"},"mark":{"type":"text","fontSize":19,"fontStyle":"italic","angle":270,"align":"center","baseline":"middle","color":"black"},"encoding":{"x":{"field":"t","type":"quantitative"},"y":{"field":"v","type":"quantitative"},"text":{"field":"s"}}},
  {"data":{"name":"a_yl_sub"},"mark":{"type":"text","fontSize":12.5,"angle":270,"align":"center","baseline":"middle","color":"black"},"encoding":{"x":{"field":"t","type":"quantitative"},"y":{"field":"v","type":"quantitative"},"text":{"field":"s"}}},
  {"data":{"name":"a_yl_rm"},"mark":{"type":"text","fontSize":19,"angle":270,"align":"center","baseline":"middle","color":"black"},"encoding":{"x":{"field":"t","type":"quantitative"},"y":{"field":"v","type":"quantitative"},"text":{"field":"s"}}},
  {"data":{"name":"a_yr_it"},"mark":{"type":"text","fontSize":19,"fontStyle":"italic","angle":90,"align":"center","baseline":"middle","color":"black"},"encoding":{"x":{"field":"t","type":"quantitative"},"y":{"field":"v","type":"quantitative"},"text":{"field":"s"}}},
  {"data":{"name":"a_yr_sub"},"mark":{"type":"text","fontSize":12.5,"angle":90,"align":"center","baseline":"middle","color":"black"},"encoding":{"x":{"field":"t","type":"quantitative"},"y":{"field":"v","type":"quantitative"},"text":{"field":"s"}}},
  {"data":{"name":"a_yr_rm"},"mark":{"type":"text","fontSize":19,"angle":90,"align":"center","baseline":"middle","color":"black"},"encoding":{"x":{"field":"t","type":"quantitative"},"y":{"field":"v","type":"quantitative"},"text":{"field":"s"}}}
 ]},
 {"data":{"name":"a_ice"},"mark":{"type":"area","color":"#0000ff","stroke":"#0000ff","strokeWidth":1},"encoding":{"x":{"field":"t","type":"quantitative"},"y":{"field":"lo","type":"quantitative","scale":{"domain":[-3,30],"range":[362,22],"nice":false,"zero":false},"axis":{"orient":"right","values":[-2.5,0,2.5,5,7.5,10,12.5,15,17.5,20,22.5,25,27.5,30],"format":"d","labelExpr":"datum.value % 5 === 0 ? datum.label : ''","grid":false,"tickSize":{"condition":{"test":"datum.value % 5 === 0","value":12},"value":7},"labelPadding":1,"labelFlush":false,"labelOverlap":false,"title":null}},"y2":{"field":"hi"}}}
 ],
 "resolve": {"scale": {"y": "independent"}}
},
{"width": 557.5, "height": 447, "layer": [
  {"data":{"name":"b_grid"},"mark":{"type":"rule","color":"#d0d0d0","strokeWidth":1},"encoding":{"x":{"field":"t","type":"quantitative","scale":{"domain":[0,2000],"range":[83,557.5],"nice":false,"zero":false},"axis":{"values":[0,250,500,750,1000,1250,1500,1750,2000],"format":"d","labelExpr":"datum.value % 500 === 0 ? datum.label : ''","grid":false,"tickSize":{"condition":{"test":"datum.value % 500 === 0","value":12},"value":6},"labelPadding":3,"labelFlush":false,"labelOverlap":false,"title":null}},"x2":{"field":"t2"},"y":{"field":"v","type":"quantitative","scale":{"domain":[-30,300],"range":[447,107],"nice":false,"zero":false},"axis":{"values":[0,30,60,90,120,150,180,210,240,270,300],"format":"d","labelExpr":"datum.value % 60 === 0 ? datum.label : ''","grid":false,"tickSize":{"condition":{"test":"datum.value % 60 === 0","value":12},"value":5},"labelPadding":2,"offset":-83,"labelFlush":false,"labelOverlap":false,"title":null}},"y2":{"field":"v2"}}},
  {"data":{"name":"b_r"},"mark":{"type":"area","color":"#ff0000","stroke":"#ff0000","strokeWidth":1},"encoding":{"x":{"field":"t","type":"quantitative"},"y":{"field":"lo","type":"quantitative"},"y2":{"field":"hi"}}},
  {"data":{"name":"b_b"},"mark":{"type":"area","color":"#0000ff","stroke":"#0000ff","strokeWidth":1},"encoding":{"x":{"field":"t","type":"quantitative"},"y":{"field":"lo","type":"quantitative"},"y2":{"field":"hi"}}},
  {"data":{"name":"b_g"},"mark":{"type":"area","color":"#00dd00","stroke":"#00dd00","strokeWidth":1},"encoding":{"x":{"field":"t","type":"quantitative"},"y":{"field":"lo","type":"quantitative"},"y2":{"field":"hi"}}},
  {"data":{"name":"b_k"},"mark":{"type":"area","color":"#000000","stroke":"#000000","strokeWidth":1.5},"encoding":{"x":{"field":"t","type":"quantitative"},"y":{"field":"lo","type":"quantitative"},"y2":{"field":"hi"}}},
  {"data":{"name":"b_seg"},"mark":{"type":"rule","color":"black","strokeWidth":1},"encoding":{"x":{"field":"t","type":"quantitative"},"x2":{"field":"t2"},"y":{"field":"v","type":"quantitative"},"y2":{"field":"v2"}}},
  {"data":{"name":"b_gray"},"mark":{"type":"rule","color":"#444444","strokeWidth":1.5},"encoding":{"x":{"field":"t","type":"quantitative"},"x2":{"field":"t2"},"y":{"field":"v","type":"quantitative"},"y2":{"field":"v2"}}},
  {"data":{"name":"b_dash"},"mark":{"type":"rule","color":"black","strokeWidth":1,"strokeDash":[3,3]},"encoding":{"x":{"field":"t","type":"quantitative"},"x2":{"field":"t2"},"y":{"field":"v","type":"quantitative"},"y2":{"field":"v2"}}},
  {"data":{"name":"b_box"},"mark":{"type":"rect","filled":false,"color":"black","strokeWidth":1,"strokeDash":[3,3]},"encoding":{"x":{"field":"t","type":"quantitative"},"x2":{"field":"t2"},"y":{"field":"v","type":"quantitative"},"y2":{"field":"v2"}}},
  {"data":{"name":"b_left"},"mark":{"type":"point","shape":"triangle-left","filled":true,"color":"black","opacity":1,"size":60},"encoding":{"x":{"field":"t","type":"quantitative"},"y":{"field":"v","type":"quantitative"}}},
  {"data":{"name":"b_right"},"mark":{"type":"point","shape":"triangle-right","filled":true,"color":"black","opacity":1,"size":60},"encoding":{"x":{"field":"t","type":"quantitative"},"y":{"field":"v","type":"quantitative"}}},
  {"data":{"name":"b_hw"},"mark":{"type":"point","shape":"triangle","filled":true,"color":"black","opacity":1,"size":50,"angle":151.6},"encoding":{"x":{"field":"t","type":"quantitative"},"y":{"field":"v","type":"quantitative"}}},
  {"data":{"name":"b_hs"},"mark":{"type":"point","shape":"triangle","filled":true,"color":"black","opacity":1,"size":50,"angle":143},"encoding":{"x":{"field":"t","type":"quantitative"},"y":{"field":"v","type":"quantitative"}}},
  {"data":{"name":"b_legk"},"mark":{"type":"rule","color":"#000000","strokeWidth":3},"encoding":{"x":{"field":"t","type":"quantitative"},"x2":{"field":"t2"},"y":{"field":"v","type":"quantitative"},"y2":{"field":"v2"}}},
  {"data":{"name":"b_legb"},"mark":{"type":"rule","color":"#0000ff","strokeWidth":2},"encoding":{"x":{"field":"t","type":"quantitative"},"x2":{"field":"t2"},"y":{"field":"v","type":"quantitative"},"y2":{"field":"v2"}}},
  {"data":{"name":"b_legg"},"mark":{"type":"rule","color":"#00dd00","strokeWidth":2},"encoding":{"x":{"field":"t","type":"quantitative"},"x2":{"field":"t2"},"y":{"field":"v","type":"quantitative"},"y2":{"field":"v2"}}},
  {"data":{"name":"b_legr"},"mark":{"type":"rule","color":"#ff0000","strokeWidth":2},"encoding":{"x":{"field":"t","type":"quantitative"},"x2":{"field":"t2"},"y":{"field":"v","type":"quantitative"},"y2":{"field":"v2"}}},
  {"data":{"name":"b_ctr"},"mark":{"type":"text","fontSize":19,"align":"center","baseline":"middle","color":"black"},"encoding":{"x":{"field":"t","type":"quantitative"},"y":{"field":"v","type":"quantitative"},"text":{"field":"s"}}},
  {"data":{"name":"b_it"},"mark":{"type":"text","fontSize":19,"fontStyle":"italic","align":"left","baseline":"middle","color":"black"},"encoding":{"x":{"field":"t","type":"quantitative"},"y":{"field":"v","type":"quantitative"},"text":{"field":"s"}}},
  {"data":{"name":"b_sub"},"mark":{"type":"text","fontSize":12.5,"align":"left","baseline":"middle","color":"black"},"encoding":{"x":{"field":"t","type":"quantitative"},"y":{"field":"v","type":"quantitative"},"text":{"field":"s"}}},
  {"data":{"name":"b_rm"},"mark":{"type":"text","fontSize":19,"align":"left","baseline":"middle","color":"black"},"encoding":{"x":{"field":"t","type":"quantitative"},"y":{"field":"v","type":"quantitative"},"text":{"field":"s"}}},
  {"data":{"name":"b_yl_it"},"mark":{"type":"text","fontSize":19,"fontStyle":"italic","angle":270,"align":"center","baseline":"middle","color":"black"},"encoding":{"x":{"field":"t","type":"quantitative"},"y":{"field":"v","type":"quantitative"},"text":{"field":"s"}}},
  {"data":{"name":"b_yl_sub"},"mark":{"type":"text","fontSize":12.5,"angle":270,"align":"center","baseline":"middle","color":"black"},"encoding":{"x":{"field":"t","type":"quantitative"},"y":{"field":"v","type":"quantitative"},"text":{"field":"s"}}},
  {"data":{"name":"b_yl_rm"},"mark":{"type":"text","fontSize":19,"angle":270,"align":"center","baseline":"middle","color":"black"},"encoding":{"x":{"field":"t","type":"quantitative"},"y":{"field":"v","type":"quantitative"},"text":{"field":"s"}}}
]},
{"width": 554, "height": 447, "layer": [
 {"layer": [
  {"data":{"name":"c_grid"},"mark":{"type":"rule","color":"#d0d0d0","strokeWidth":1},"encoding":{"x":{"field":"t","type":"quantitative","scale":{"domain":[0,2000],"range":[73,554],"nice":false,"zero":false},"axis":{"values":[0,250,500,750,1000,1250,1500,1750,2000],"format":"d","labelExpr":"datum.value % 500 === 0 ? datum.label : ''","grid":false,"tickSize":{"condition":{"test":"datum.value % 500 === 0","value":12},"value":6},"labelPadding":3,"labelFlush":false,"labelOverlap":false,"title":null}},"x2":{"field":"t2"},"y":{"field":"v","type":"quantitative","scale":{"domain":[-7.5,27.5],"range":[447,98],"nice":false,"zero":false},"axis":{"values":[-5,-2.5,0,2.5,5,7.5,10,12.5,15,17.5,20,22.5,25],"format":"d","labelExpr":"datum.value % 5 === 0 ? datum.label : ''","grid":false,"tickSize":{"condition":{"test":"datum.value % 5 === 0","value":12},"value":5},"labelPadding":2,"offset":-73,"labelFlush":false,"labelOverlap":false,"title":null}},"y2":{"field":"v2"}}},
  {"data":{"name":"c_r"},"mark":{"type":"area","color":"#ff0000","stroke":"#ff0000","strokeWidth":1},"encoding":{"x":{"field":"t","type":"quantitative"},"y":{"field":"lo","type":"quantitative"},"y2":{"field":"hi"}}},
  {"data":{"name":"c_b"},"mark":{"type":"area","color":"#0000ff","stroke":"#0000ff","strokeWidth":1},"encoding":{"x":{"field":"t","type":"quantitative"},"y":{"field":"lo","type":"quantitative"},"y2":{"field":"hi"}}},
  {"data":{"name":"c_g"},"mark":{"type":"area","color":"#00dd00","stroke":"#00dd00","strokeWidth":1},"encoding":{"x":{"field":"t","type":"quantitative"},"y":{"field":"lo","type":"quantitative"},"y2":{"field":"hi"}}},
  {"data":{"name":"c_k"},"mark":{"type":"area","color":"#000000","stroke":"#000000","strokeWidth":1.2},"encoding":{"x":{"field":"t","type":"quantitative"},"y":{"field":"lo","type":"quantitative"},"y2":{"field":"hi"}}},
  {"data":{"name":"c_seg"},"mark":{"type":"rule","color":"black","strokeWidth":1},"encoding":{"x":{"field":"t","type":"quantitative"},"x2":{"field":"t2"},"y":{"field":"v","type":"quantitative"},"y2":{"field":"v2"}}},
  {"data":{"name":"c_box"},"mark":{"type":"rect","filled":false,"color":"black","strokeWidth":1,"strokeDash":[3,3]},"encoding":{"x":{"field":"t","type":"quantitative"},"x2":{"field":"t2"},"y":{"field":"v","type":"quantitative"},"y2":{"field":"v2"}}},
  {"data":{"name":"c_htail"},"mark":{"type":"point","shape":"triangle","filled":true,"color":"black","opacity":1,"size":50,"angle":194},"encoding":{"x":{"field":"t","type":"quantitative"},"y":{"field":"v","type":"quantitative"}}},
  {"data":{"name":"c_legk"},"mark":{"type":"rule","color":"#000000","strokeWidth":3},"encoding":{"x":{"field":"t","type":"quantitative"},"x2":{"field":"t2"},"y":{"field":"v","type":"quantitative"},"y2":{"field":"v2"}}},
  {"data":{"name":"c_legb"},"mark":{"type":"rule","color":"#0000ff","strokeWidth":2},"encoding":{"x":{"field":"t","type":"quantitative"},"x2":{"field":"t2"},"y":{"field":"v","type":"quantitative"},"y2":{"field":"v2"}}},
  {"data":{"name":"c_legg"},"mark":{"type":"rule","color":"#00dd00","strokeWidth":2},"encoding":{"x":{"field":"t","type":"quantitative"},"x2":{"field":"t2"},"y":{"field":"v","type":"quantitative"},"y2":{"field":"v2"}}},
  {"data":{"name":"c_legr"},"mark":{"type":"rule","color":"#ff0000","strokeWidth":2},"encoding":{"x":{"field":"t","type":"quantitative"},"x2":{"field":"t2"},"y":{"field":"v","type":"quantitative"},"y2":{"field":"v2"}}},
  {"data":{"name":"c_ctr"},"mark":{"type":"text","fontSize":19,"align":"center","baseline":"middle","color":"black"},"encoding":{"x":{"field":"t","type":"quantitative"},"y":{"field":"v","type":"quantitative"},"text":{"field":"s"}}},
  {"data":{"name":"c_it"},"mark":{"type":"text","fontSize":19,"fontStyle":"italic","align":"left","baseline":"middle","color":"black"},"encoding":{"x":{"field":"t","type":"quantitative"},"y":{"field":"v","type":"quantitative"},"text":{"field":"s"}}},
  {"data":{"name":"c_rm"},"mark":{"type":"text","fontSize":19,"align":"left","baseline":"middle","color":"black"},"encoding":{"x":{"field":"t","type":"quantitative"},"y":{"field":"v","type":"quantitative"},"text":{"field":"s"}}},
  {"data":{"name":"c_yl_it"},"mark":{"type":"text","fontSize":19,"fontStyle":"italic","angle":270,"align":"center","baseline":"middle","color":"black"},"encoding":{"x":{"field":"t","type":"quantitative"},"y":{"field":"v","type":"quantitative"},"text":{"field":"s"}}},
  {"data":{"name":"c_yl_sub"},"mark":{"type":"text","fontSize":12.5,"angle":270,"align":"center","baseline":"middle","color":"black"},"encoding":{"x":{"field":"t","type":"quantitative"},"y":{"field":"v","type":"quantitative"},"text":{"field":"s"}}},
  {"data":{"name":"c_yl_rm"},"mark":{"type":"text","fontSize":19,"angle":270,"align":"center","baseline":"middle","color":"black"},"encoding":{"x":{"field":"t","type":"quantitative"},"y":{"field":"v","type":"quantitative"},"text":{"field":"s"}}}
 ]},
 {"layer": [
  {"data":{"name":"i_frame"},"mark":{"type":"rect","fill":"white","stroke":"#444444","strokeWidth":1.5},"encoding":{"x":{"field":"t","type":"quantitative","scale":{"domain":[1010,1130],"range":[94.3,300.7],"nice":false,"zero":false},"axis":{"orient":"bottom","offset":-60,"values":[1010,1025,1040,1055,1070,1085,1100,1115,1130],"format":"d","labelExpr":"datum.value % 30 === 20 ? datum.label : ''","domain":false,"grid":false,"tickSize":4,"labelPadding":2,"labelFontSize":14.5,"labelFlush":false,"labelOverlap":false,"title":null}},"x2":{"field":"t2"},"y":{"field":"v","type":"quantitative","scale":{"domain":[-1.9,22.1],"range":[387,213.7],"nice":false,"zero":false},"axis":{"orient":"left","offset":-94.3,"values":[0,5,10,15,20],"format":"d","labelExpr":"datum.value % 10 === 0 ? datum.label : ''","domain":false,"grid":false,"tickSize":4,"labelPadding":4,"labelFontSize":14.5,"labelFlush":false,"labelOverlap":false,"title":null}},"y2":{"field":"v2"}}},
  {"data":{"name":"i_grid"},"mark":{"type":"rule","color":"#d0d0d0","strokeWidth":1},"encoding":{"x":{"field":"t","type":"quantitative"},"x2":{"field":"t2"},"y":{"field":"v","type":"quantitative"},"y2":{"field":"v2"}}},
  {"data":{"name":"i_k"},"mark":{"type":"line","color":"#000000","strokeWidth":1.8},"encoding":{"x":{"field":"t","type":"quantitative"},"y":{"field":"v","type":"quantitative"}}},
  {"data":{"name":"i_g"},"mark":{"type":"line","color":"#00dd00","strokeWidth":1.8},"encoding":{"x":{"field":"t","type":"quantitative"},"y":{"field":"v","type":"quantitative"}}},
  {"data":{"name":"i_b"},"mark":{"type":"line","color":"#0000ff","strokeWidth":1.8},"encoding":{"x":{"field":"t","type":"quantitative"},"y":{"field":"v","type":"quantitative"}}},
  {"data":{"name":"i_r"},"mark":{"type":"line","color":"#ff0000","strokeWidth":1.8},"encoding":{"x":{"field":"t","type":"quantitative"},"y":{"field":"v","type":"quantitative"}}},
  {"data":{"name":"i_frame"},"mark":{"type":"rect","filled":false,"color":"#444444","strokeWidth":1.5},"encoding":{"x":{"field":"t","type":"quantitative"},"x2":{"field":"t2"},"y":{"field":"v","type":"quantitative"},"y2":{"field":"v2"}}},
  {"data":{"name":"i_arrow"},"mark":{"type":"rule","color":"black","strokeWidth":1},"encoding":{"x":{"field":"t","type":"quantitative"},"x2":{"field":"t2"},"y":{"field":"v","type":"quantitative"},"y2":{"field":"v2"}}},
  {"data":{"name":"i_head"},"mark":{"type":"point","shape":"triangle","filled":true,"color":"black","opacity":1,"size":50,"angle":56},"encoding":{"x":{"field":"t","type":"quantitative"},"y":{"field":"v","type":"quantitative"}}}
 ]}
 ],
 "resolve": {"scale": {"x": "independent", "y": "independent"}}
}
]
}
